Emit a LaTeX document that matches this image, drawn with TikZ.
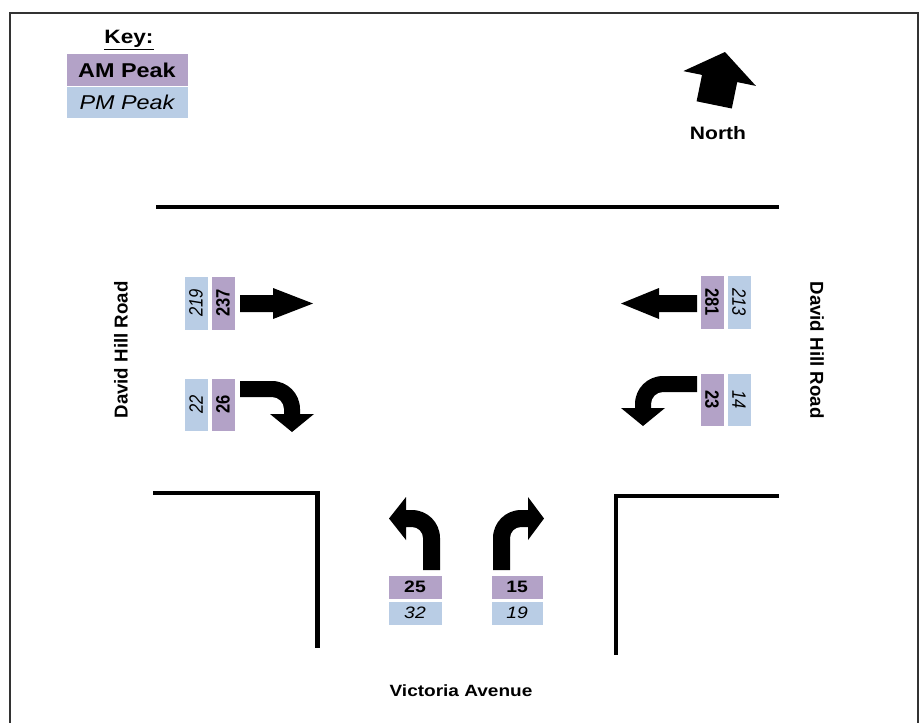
\documentclass[tikz,border=0pt]{standalone}
\usepackage{fontspec}
\setmainfont{Liberation Sans}
\definecolor{am}{HTML}{B3A2C7}
\definecolor{pm}{HTML}{B9CDE5}
\definecolor{framec}{HTML}{333333}
\begin{document}
\begin{tikzpicture}[x=0.75pt,y=-0.75pt,
  road/.style={line width=3.6pt,black},
  frameline/.style={line width=1.5pt,framec},
  ambox/.style={fill=am,draw=white,line width=0.5pt},
  pmbox/.style={fill=pm,draw=white,line width=0.5pt},
  amtxt/.style={inner sep=0pt,font=\fontsize{12.4}{14}\selectfont\bfseries,xscale=1.17},
  pmtxt/.style={inner sep=0pt,font=\fontsize{12.4}{14}\selectfont\itshape,xscale=1.17},
  lbl/.style={inner sep=0pt,font=\fontsize{12.2}{14}\selectfont\bfseries,xscale=1.17},
  vlbl/.style={inner sep=0pt,font=\fontsize{14}{16}\selectfont\bfseries},
  turnarrow/.style={fill=black}]
\useasboundingbox (0,0) rectangle (920,722);
% frame
\draw[frameline] (10,723) -- (10,12.5) -- (918,12.5) -- (918,723);
% key
\node[inner sep=0pt,font=\fontsize{14.5}{16}\selectfont\bfseries,xscale=1.17] (key) at (129,40) {\underline{Key:}};
\fill[ambox] (66,53) rectangle (188,86);
\fill[pmbox] (66,86) rectangle (188,118);
\node[inner sep=0pt,font=\fontsize{15}{17}\selectfont\bfseries,xscale=1.17] (amk) at (127,70) {AM Peak};
\node[inner sep=0pt,font=\fontsize{15}{17}\selectfont\itshape,xscale=1.17] (pmk) at (127,102) {PM Peak};
% north arrow
\fill[black] (725,52) -- (755.9,85.9) -- (737.2,82.1) -- (731.8,108.5) -- (696.6,101.3) -- (702,74.9) -- (683.3,71.1) -- cycle;
\node[inner sep=0pt,font=\fontsize{13.5}{15}\selectfont\bfseries,xscale=1.17] (north) at (718,133) {North};
% roads
\draw[road] (156,207) -- (779,207);
\draw[road] (153,493) -- (317.5,493) -- (317.5,648);
\draw[road] (779,496) -- (616,496) -- (616,655);
% road names
\node[vlbl,rotate=90] (dhl) at (121,350) {David Hill Road};
\node[vlbl,rotate=-90] (dhr) at (817,350) {David Hill Road};
\node[lbl] (vic) at (461,691) {Victoria Avenue};
% left approach boxes
\fill[pmbox] (184,276) rectangle (208,330);
\fill[ambox] (211,276) rectangle (235,330);
\node[pmtxt,rotate=90] (n219) at (196,303) {219};
\node[amtxt,rotate=90] (n237) at (223,303) {237};
\fill[pmbox] (184,378) rectangle (208,431);
\fill[ambox] (211,378) rectangle (235,431);
\node[pmtxt,rotate=90] (n22) at (196,404.5) {22};
\node[amtxt,rotate=90] (n26) at (223,404.5) {26};
% right approach boxes
\fill[ambox] (700,275) rectangle (724,329);
\fill[pmbox] (727,275) rectangle (751,329);
\node[amtxt,rotate=-90] (n281) at (712,302) {281};
\node[pmtxt,rotate=-90] (n213) at (739,302) {213};
\fill[ambox] (700,373) rectangle (724,426);
\fill[pmbox] (727,373) rectangle (751,426);
\node[amtxt,rotate=-90] (n23) at (712,399.5) {23};
\node[pmtxt,rotate=-90] (n14) at (739,399.5) {14};
% bottom approach boxes
\fill[ambox] (388,575) rectangle (442,599);
\fill[pmbox] (388,601) rectangle (442,625);
\node[amtxt] (n25) at (415,587) {25};
\node[pmtxt] (n32) at (415,613) {32};
\fill[ambox] (491,575) rectangle (543,599);
\fill[pmbox] (491,601) rectangle (543,625);
\node[amtxt] (n15) at (517,587) {15};
\node[pmtxt] (n19) at (517,613) {19};
% eastbound through
\fill[turnarrow] (240,295) -- (273,295) -- (273,288) -- (313,303.5) -- (273,319) -- (273,312) -- (240,312) -- cycle;
% westbound through
\fill[turnarrow] (697,295) -- (659,295) -- (659,288) -- (621,303.5) -- (659,319) -- (659,312) -- (697,312) -- cycle;
% eastbound right turn
\fill[turnarrow] (240,381) -- (272,381) .. controls (287.5,381) and (300,393.5) .. (300,409)
  -- (300,414) -- (314,414) -- (292,432) -- (270,414) -- (284,414) -- (284,409)
  .. controls (284,402.4) and (278.6,397) .. (272,397) -- (240,397) -- cycle;
% westbound left turn
\fill[turnarrow] (697,376) -- (663,376) .. controls (647.5,376) and (635,388.5) .. (635,404)
  -- (635,408) -- (621,408) -- (643,426) -- (665,408) -- (651,408) -- (651,404)
  .. controls (651,397.4) and (656.4,392) .. (663,392) -- (697,392) -- cycle;
% northbound left turn
\fill[turnarrow] (440,570) -- (440,538) .. controls (440,522.5) and (427.5,510) .. (412,510)
  -- (406,510) -- (406,497) -- (389,518.5) -- (406,540) -- (406,527) -- (412,527)
  .. controls (418.1,527) and (423,531.9) .. (423,538) -- (423,570) -- cycle;
% northbound right turn
\fill[turnarrow] (493,570) -- (493,538) .. controls (493,522.5) and (505.5,510) .. (521,510)
  -- (528,510) -- (528,497) -- (544,518.5) -- (528,540) -- (528,527) -- (521,527)
  .. controls (514.9,527) and (510,531.9) .. (510,538) -- (510,570) -- cycle;
\end{tikzpicture}
\end{document}
